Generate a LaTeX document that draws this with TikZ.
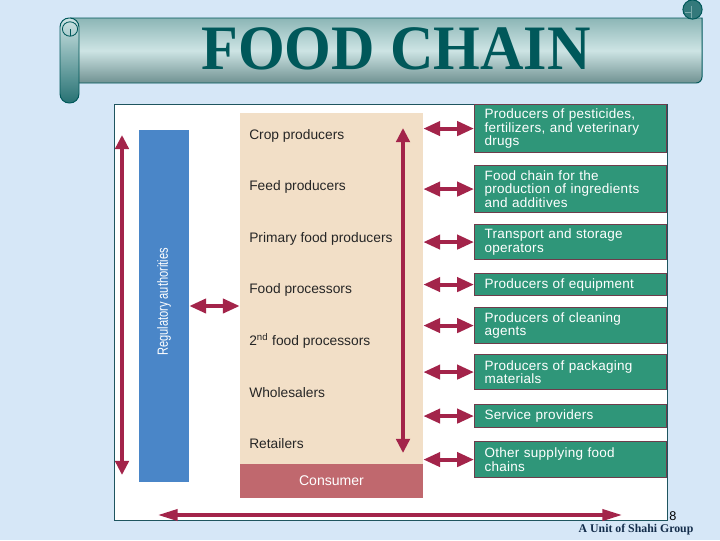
\documentclass[tikz,border=0pt]{standalone}
\usepackage{fontspec}
\setmainfont{Liberation Serif}
\newfontfamily\chainfont{Liberation Sans}
\newfontfamily\boxfont[LetterSpace=2]{Liberation Sans}
\usetikzlibrary{arrows.meta,positioning}
\definecolor{slidebg}{RGB}{214,231,247}
\definecolor{scrollteal}{RGB}{0,88,90}
\definecolor{scrolllight}{RGB}{205,228,228}
\definecolor{scrolldark}{RGB}{140,182,182}
\definecolor{regblue}{RGB}{74,134,200}
\definecolor{chainbeige}{RGB}{242,223,199}
\definecolor{consumerred}{RGB}{192,104,110}
\definecolor{supgreen}{RGB}{47,150,121}
\definecolor{supborder}{RGB}{110,60,75}
\definecolor{flowred}{RGB}{163,36,74}
\definecolor{paneledge}{RGB}{30,85,95}
\definecolor{footblue}{RGB}{20,45,75}
\tikzset{
  stagelabel/.style={anchor=west, inner sep=0pt, text=black!85,
                     font=\chainfont\fontsize{9.8}{11}\selectfont},
  supbox/.style={draw=supborder, line width=0.8pt, fill=supgreen, anchor=north west,
                 text=white, font=\boxfont\fontsize{9.6}{9.6}\selectfont,
                 minimum width=4.8cm, text width=4.3cm, inner xsep=0.25cm,
                 inner ysep=0pt, align=left},
  dblarrow/.style={flowred, line width=2.8pt,
                   {Triangle[length=12pt,width=10pt]}-{Triangle[length=12pt,width=10pt]}},
  longarrow/.style={flowred, line width=2.8pt,
                    {Triangle[length=10pt,width=9.5pt]}-{Triangle[length=10pt,width=9.5pt]}},
}
\begin{document}
\begin{tikzpicture}[x=0.025cm, y=-0.025cm]

% slide background
\fill[slidebg] (0,0) rectangle (720,540);
\useasboundingbox (0,0) rectangle (720,540);

% scroll banner
\shade[top color=scrolldark, bottom color=scrolldark!80!black, middle color=scrolllight]
      (70,18) -- (702,18) [rounded corners=0.15cm] -- (702,83) [sharp corners] -- (70,83) -- cycle;
\draw[scrollteal, line width=0.7pt]
      (70,18) -- (702,18) [rounded corners=0.15cm] -- (702,83) [sharp corners] -- (70,83);
\shade[top color=scrolllight, bottom color=scrollteal!85, rounded corners=0.23cm] (60,18) rectangle (79,103);
\draw[scrollteal, line width=0.7pt, rounded corners=0.23cm] (60,18) rectangle (79,103);
\draw[scrollteal, line width=0.6pt] (70,29) ellipse (0.19cm and 0.18cm);
\draw[scrollteal, line width=0.6pt] (70,29) -- (70,36);
\fill[scrollteal!80] (692.5,9.5) circle (0.24cm);
\draw[scrollteal, line width=0.7pt] (692.5,9.5) circle (0.24cm);
\draw[scrolllight!60!scrollteal, line width=0.6pt] (691,6) -- (691,18) (685,12) -- (691,12);

% title
\node[font=\bfseries\fontsize{45}{45}\selectfont, text=scrollteal] (title) at (396,49)
      {\scalebox{0.95}[1]{FOOD CHAIN}};

% white panel
\draw[paneledge, fill=white, line width=0.6pt] (114,104) rectangle (667,520);

% regulatory authorities
\node[fill=regblue, minimum width=1.25cm, minimum height=8.8cm, inner sep=0pt] (regbar) at (164,306) {};
\node[rotate=90, text=white, font=\chainfont\fontsize{10.5}{11}\selectfont] (regtext) at (164,302)
      {\scalebox{0.75}[1]{Regulatory authorities}};

% food chain stages
\node[fill=chainbeige, minimum width=4.575cm, minimum height=8.775cm, inner sep=0pt] (chainbg) at (331.5,288.5) {};
\node[fill=consumerred, minimum width=4.575cm, minimum height=0.85cm, inner sep=0pt,
      text=white, font=\chainfont\fontsize{10}{11}\selectfont] (consumer) at (331.5,481) {Consumer};
\foreach \name/\txt [count=\i] in {crop/Crop producers, feed/Feed producers,
    primary/Primary food producers, proc/Food processors,
    proctwo/{2\textsuperscript{nd} food processors}, whole/Wholesalers, retail/Retailers}
  \node[stagelabel] (\name) at (249,{136+51.3*(\i-1)}) {\txt};

% supplying chains
\node[supbox, minimum height=1.2cm] (sup1) at (474,104) {Producers of pesticides,\\fertilizers, and veterinary\\drugs};
\node[supbox, minimum height=1.175cm] (sup2) at (474,165) {Food chain for the\\production of ingredients\\and additives};
\node[supbox, minimum height=0.875cm] (sup3) at (474,224) {Transport and storage\\operators};
\node[supbox, minimum height=0.55cm] (sup4) at (474,273) {Producers of equipment};
\node[supbox, minimum height=0.9cm] (sup5) at (474,307) {Producers of cleaning\\agents};
\node[supbox, minimum height=0.875cm] (sup6) at (474,354) {Producers of packaging\\materials};
\node[supbox, minimum height=0.575cm] (sup7) at (474,404) {Service providers};
\node[supbox, minimum height=0.9cm] (sup8) at (474,441) {Other supplying food\\chains};

% arrows
\coordinate (leftup) at (122,135);
\coordinate (leftdown) at (122,475);
\coordinate (innerup) at (403,128);
\coordinate (innerdown) at (403,453);
\coordinate (bottomleft) at (158,515);
\coordinate (bottomright) at (622,515);
\draw[longarrow] (leftup) -- (leftdown);
\draw[longarrow] (innerup) -- (innerdown);
\draw[dblarrow] (regbar.east |- 0,306) -- (chainbg.west |- 0,306);
\foreach \s in {sup1,sup2,sup3,sup4,sup5,sup6,sup7,sup8}
  \draw[dblarrow] (\s.west -| chainbg.east) -- (\s.west);
\draw[flowred, line width=2.2pt, {Triangle[length=14pt,width=8pt]}-{Triangle[length=14pt,width=8pt]}]
      (bottomleft) -- (bottomright);

% footer
\node[anchor=west, inner sep=0pt, font=\chainfont\fontsize{9}{9}\selectfont] (pagenum) at (669,516) {8};
\node[font=\bfseries\fontsize{8.4}{9}\selectfont, text=footblue] (footer) at (636,530) {A Unit of Shahi Group};

\end{tikzpicture}
\end{document}
